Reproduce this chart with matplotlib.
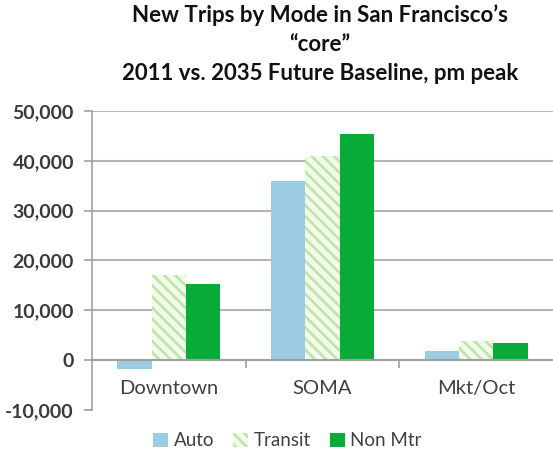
import matplotlib
matplotlib.use("Agg")
import matplotlib.pyplot as plt
import numpy as np
from matplotlib.patches import Patch

plt.rcParams['hatch.linewidth'] = 2.0

categories = ["Downtown", "SOMA", "Mkt/Oct"]
modes = ["Auto", "Transit", "Non Mtr"]
auto = [-1800, 35900, 1800]
transit = [17000, 40900, 3800]
non_mtr = [15200, 45300, 3400]
yticks = [-10000, 0, 10000, 20000, 30000, 40000, 50000]

font = "Lato"
tick_color = "#404040"

fig = plt.figure(figsize=(5.53, 4.62), dpi=100)
ax = fig.add_axes([0.1664, 0.1126, 0.8336, 0.6471])

x = np.arange(len(categories))
w = 0.223
ax.bar(x - w, auto, w, color="#9dcbe3", zorder=3)
ax.bar(x, transit, w, color="#f3fbee", edgecolor="#bfe6a6", hatch="\\\\\\", linewidth=0, zorder=3)
ax.bar(x + w, non_mtr, w, color="#08ab38", zorder=3)

ax.set_xlim(-0.5, 2.5)
ax.set_ylim(-10000, 50000)
ax.set_yticks(yticks)
ax.set_yticklabels([f"{v:,}" for v in yticks], fontfamily=font, fontweight="bold",
                   fontsize=14, color="#3a3a3a")
for v in yticks[2:]:
    ax.axhline(v, color="#b5b5b5", linewidth=1.5, zorder=1)

for s in ["top", "right"]:
    ax.spines[s].set_visible(False)
ax.spines["left"].set_color("#a0a0a0")
ax.spines["left"].set_linewidth(1.2)
ax.spines["bottom"].set_position(("data", 0))
ax.spines["bottom"].set_color("#a0a0a0")
ax.spines["bottom"].set_linewidth(1.5)
ax.spines["bottom"].set_zorder(4)

ax.set_xticks(x)
ax.set_xticklabels(categories, fontfamily=font, fontsize=14.5, color=tick_color)
ax.tick_params(axis="x", which="major", length=0, pad=14)
ax.set_xticks([0.5, 1.5], minor=True)
ax.tick_params(axis="x", which="minor", length=6, width=1.2, color="#a0a0a0", direction="out")
ax.tick_params(axis="y", length=6, width=1.2, color="#a0a0a0", pad=7)

fig.suptitle("New Trips by Mode in San Francisco\u2019s\n\u201ccore\u201d\n2011 vs. 2035 Future Baseline, pm peak",
             x=0.579, y=0.99, fontfamily=font, fontweight="bold", fontsize=16,
             linespacing=1.45, color="#111111")

handles = [Patch(facecolor="#9dcbe3"),
           Patch(facecolor="#f3fbee", edgecolor="#bfe6a6", hatch="\\\\\\", linewidth=0),
           Patch(facecolor="#08ab38")]
fig.legend(handles, modes, loc="center", bbox_to_anchor=(0.52, 0.046), ncol=3,
           frameon=False, prop={"family": font, "size": 13.5},
           handlelength=0.8, handleheight=0.8, handletextpad=0.3, columnspacing=1.0,
           labelcolor=tick_color)

fig.savefig("out.png", dpi=100)
